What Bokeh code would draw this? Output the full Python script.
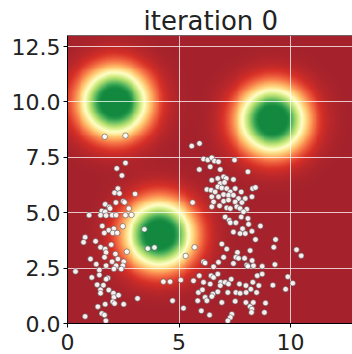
import numpy as np
from bokeh.plotting import figure
from bokeh.models import LinearColorMapper, FixedTicker, Span, NumeralTickFormatter
from bokeh.embed import file_html
from bokeh.resources import INLINE

title_text = "iteration 0"
centers_x = [2.1, 9.17, 4.1]
centers_y = [10.0, 9.2, 4.0]
sigmas = [1.0, 1.0, 1.0]
x_ticks = [0, 5, 10]
y_ticks = [0, 2.5, 5, 7.5, 10, 12.5]

pts_x = [1.67, 2.60, 2.60, 2.21, 2.44, 2.26, 2.11, 2.33, 3.03, 2.50, 2.17, 2.56, 1.69, 1.87, 1.91, 2.75,
         1.54, 1.69, 0.97, 1.48, 1.73, 2.00, 2.18, 2.60, 1.56, 2.08, 2.48, 1.85, 1.65, 2.03, 2.23, 3.45,
         3.90, 3.60, 2.87, 0.79, 0.72, 1.26, 1.48, 1.69, 1.96, 1.73, 2.15, 2.66, 1.03, 1.66, 2.00, 2.26,
         2.52, 1.29, 1.73, 2.18, 2.48, 2.08, 2.41, 0.36, 1.43, 1.09, 1.43, 1.81, 1.73, 1.33, 1.61, 1.48,
         1.48, 1.85, 2.06, 2.08, 2.29, 2.03, 2.11, 2.52, 3.14, 1.69, 1.36, 0.79, 1.54, 1.66, 1.72,
         4.30, 4.60, 5.08, 4.71, 5.20, 5.70, 5.30,
         6.92, 7.14, 7.62, 8.19, 7.00, 7.55, 7.67, 7.94, 6.10, 6.17, 6.77, 7.44, 8.04, 8.09, 6.55, 8.34,
         5.65, 5.91, 6.10, 6.44, 6.55, 6.74, 6.87, 7.07, 7.22, 7.34, 7.71, 6.40, 6.85, 8.00, 8.31, 5.87,
         6.05, 6.52, 6.47, 6.74, 7.19, 7.55, 7.74, 8.01, 8.22, 6.17, 6.25, 5.84, 6.92, 7.52, 8.00, 8.19,
         8.27, 6.00, 6.37, 7.37, 7.30, 7.19,
         8.43, 9.33, 9.25, 10.27, 10.48, 8.28, 8.73, 9.30, 8.51, 8.73, 9.88, 10.10, 8.58, 9.21, 9.78,
         8.48, 8.33, 8.88, 8.83, 8.25,
         5.57, 5.92, 6.10, 6.29, 6.47, 6.59, 6.77, 7.49, 6.40, 5.91, 6.85, 8.09, 6.47, 6.74, 7.00, 7.12,
         7.44, 6.85, 7.04, 6.74, 6.25, 6.44, 6.92, 7.14, 7.52, 6.62, 7.30, 7.79, 8.30, 7.00, 7.22, 7.44,
         6.47, 6.77, 7.67, 7.97, 6.55, 7.00, 7.22, 7.52, 7.82, 8.27, 5.61, 6.47, 6.82, 7.14, 7.30, 7.59,
         7.74, 8.04, 7.89, 7.07, 7.25, 7.79, 8.09, 7.30, 7.55, 8.12, 7.85, 7.44, 7.74, 7.97, 8.27, 8.43,
         8.65]
pts_y = [8.43, 8.48, 7.25, 7.00, 6.68, 6.09, 5.90, 5.87, 5.85, 5.52, 5.46, 5.47, 5.38, 5.26, 5.19, 5.19,
         5.08, 5.04, 4.89, 4.89, 4.87, 4.89, 4.89, 4.89, 4.40, 4.28, 4.39, 4.21, 4.09, 4.09, 4.09, 4.25,
         3.43, 3.38, 4.90, 3.89, 3.67, 3.71, 3.44, 3.36, 3.56, 3.21, 3.14, 3.24, 2.91, 2.99, 2.79, 2.91,
         2.79, 2.68, 2.61, 2.61, 2.61, 2.46, 2.46, 2.35, 2.41, 2.08, 2.19, 2.05, 2.00, 1.75, 1.73, 1.52,
         1.37, 1.51, 1.37, 1.18, 1.28, 0.98, 0.90, 0.87, 1.13, 0.87, 0.76, 0.32, 0.45, 0.38, 0.12,
         1.89, 1.89, 1.96, 1.03, 0.69, 3.44, 3.05,
         3.59, 3.36, 3.21, 3.29, 2.99, 2.99, 2.94, 2.94, 2.79, 2.73, 2.76, 2.71, 2.64, 2.58, 2.56, 2.61,
         1.93, 2.16, 1.86, 2.16, 2.08, 2.23, 1.86, 1.86, 1.78, 2.00, 1.78, 1.78, 1.71, 1.71, 1.86, 1.40,
         1.52, 1.33, 1.22, 1.43, 1.40, 1.40, 1.36, 1.40, 1.55, 1.18, 1.03, 1.03, 0.95, 1.00, 0.95, 0.77,
         0.65, 0.57, 0.38, 0.42, 0.27, 0.12,
         3.79, 3.79, 3.44, 3.33, 3.06, 2.84, 2.58, 2.66, 2.16, 2.23, 2.11, 1.82, 1.71, 1.73, 1.55,
         1.40, 0.95, 0.92, 0.50, 0.50,
         8.01, 8.13, 7.42, 7.38, 7.48, 7.33, 7.30, 7.38, 7.07, 6.95, 6.95, 6.85, 6.47, 6.55, 6.62, 6.55,
         6.50, 6.32, 6.37, 6.17, 6.05, 6.02, 6.12, 6.09, 6.09, 5.94, 5.94, 5.94, 6.09, 5.82, 5.79, 5.79,
         5.72, 5.72, 5.64, 5.64, 5.49, 5.52, 5.57, 5.49, 5.46, 5.72, 5.46, 5.27, 5.31, 5.22, 5.19, 5.27,
         5.19, 5.16, 5.04, 4.81, 4.66, 4.81, 4.74, 4.55, 4.55, 4.48, 4.28, 4.13, 4.06, 4.06, 4.16, 6.14,
         4.40]

# colormap (red -> yellow/white -> green)
base = ['#a5222c', '#d73027', '#f46d43', '#fdae61', '#fee08b', '#ffffc8',
        '#d9ef8b', '#a6d96a', '#66bd63', '#2e9e4e', '#13883f']
rgb = np.array([[int(c[i:i + 2], 16) for i in (1, 3, 5)] for c in base], dtype=float)
pos = np.linspace(0, 1, len(base))
t = np.linspace(0, 1, 256)
palette = ['#%02x%02x%02x' % tuple(int(round(np.interp(v, pos, rgb[:, k]))) for k in range(3)) for v in t]

x_end = 12.78
y_end = 13.0
gx = np.linspace(0, 13, 301)
gy = np.linspace(0, 13, 301)
GX, GY = np.meshgrid(gx, gy)
Z = np.zeros_like(GX)
for cx, cy, s in zip(centers_x, centers_y, sigmas):
    Z += np.exp(-((GX - cx) ** 2 + (GY - cy) ** 2) / (2 * s * s))

mapper = LinearColorMapper(palette=palette, low=0.0, high=0.82)

p = figure(width=352, height=354, x_range=(0, x_end), y_range=(0, y_end),
           output_backend="svg", toolbar_location=None,
           min_border_left=67, min_border_right=0, min_border_top=35, min_border_bottom=31)
p.background_fill_color = "white"
p.border_fill_color = "white"
p.outline_line_color = None

p.image(image=[Z], x=0, y=0, dw=13, dh=13, color_mapper=mapper, level="image")

p.scatter(pts_x, pts_y, size=5.5, fill_color="white", fill_alpha=0.92,
          line_color="#555555", line_width=0.6)

p.title.text = title_text
p.title.text_font = "DejaVu Sans"
p.title.text_font_size = "26px"
p.title.text_font_style = "normal"
p.title.text_color = "#222222"
p.title.align = "left"
p.title.offset = 76
p.title.standoff = 0

for ax in (p.xaxis, p.yaxis):
    ax.major_label_text_font = "DejaVu Sans"
    ax.major_label_text_font_size = "22px"
    ax.major_label_text_color = "#222222"
    ax.axis_line_color = "black"
    ax.axis_line_width = 1
    ax.major_tick_line_color = "black"
    ax.major_tick_out = 4
    ax.major_tick_in = 0
    ax.minor_tick_line_color = None
p.yaxis.major_label_standoff = 3
p.xaxis.major_label_standoff = 6

p.xaxis.ticker = FixedTicker(ticks=x_ticks)
p.yaxis.ticker = FixedTicker(ticks=y_ticks)
p.yaxis.formatter = NumeralTickFormatter(format="0.0")
p.xgrid.ticker = FixedTicker(ticks=x_ticks)
p.ygrid.ticker = FixedTicker(ticks=y_ticks)
p.grid.grid_line_color = "white"
p.grid.grid_line_alpha = 0.75
p.grid.grid_line_width = 1

p.add_layout(Span(location=y_end, dimension="width", line_color="black", line_width=1))

open("out.html", "w").write(file_html(p, INLINE))
